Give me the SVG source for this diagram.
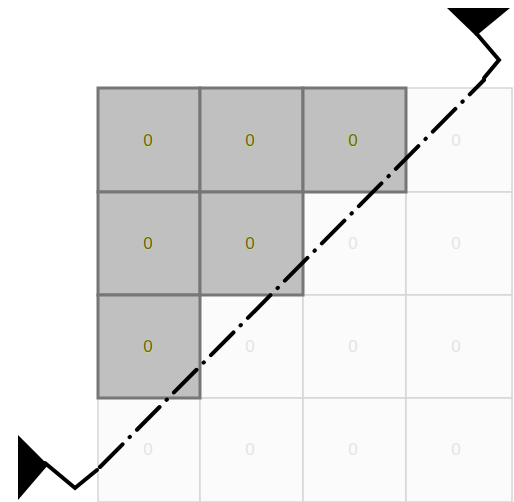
<svg xmlns="http://www.w3.org/2000/svg" width="514" height="502" viewBox="0 0 514 502">
<style>
.g rect{fill:#c0c0c0;stroke:#767676;stroke-width:3}
.w rect{fill:#fbfbfb;stroke:#d6d6d6;stroke-width:1.5}
.g text{fill:#66661a;font-family:"Liberation Sans",Arial,sans-serif;font-size:17px;text-anchor:middle;stroke:#d8e27a;stroke-width:1;paint-order:stroke}
.w text{fill:#e4e4e4;font-family:"Liberation Sans",Arial,sans-serif;font-size:17px;text-anchor:middle}
.cut{fill:none;stroke:#000;stroke-width:4;stroke-linecap:round;stroke-linejoin:miter}
</style>
<rect width="514" height="502" fill="#ffffff"/>
<g id="cell-0-3" class="w"><rect x="406" y="88" width="106" height="104"/><text x="456" y="146">0</text></g>
<g id="cell-1-2" class="w"><rect x="303" y="192" width="103" height="103"/><text x="353" y="249">0</text></g>
<g id="cell-1-3" class="w"><rect x="406" y="192" width="106" height="103"/><text x="456" y="249">0</text></g>
<g id="cell-2-1" class="w"><rect x="200" y="295" width="103" height="103"/><text x="250" y="352">0</text></g>
<g id="cell-2-2" class="w"><rect x="303" y="295" width="103" height="103"/><text x="353" y="352">0</text></g>
<g id="cell-2-3" class="w"><rect x="406" y="295" width="106" height="103"/><text x="456" y="352">0</text></g>
<g id="cell-3-0" class="w"><rect x="98" y="398" width="102" height="104"/><text x="148" y="455">0</text></g>
<g id="cell-3-1" class="w"><rect x="200" y="398" width="103" height="104"/><text x="250" y="455">0</text></g>
<g id="cell-3-2" class="w"><rect x="303" y="398" width="103" height="104"/><text x="353" y="455">0</text></g>
<g id="cell-3-3" class="w"><rect x="406" y="398" width="106" height="104"/><text x="456" y="455">0</text></g>
<g id="cell-0-0" class="g"><rect x="98" y="88" width="102" height="104"/><text x="148" y="146">0</text></g>
<g id="cell-0-1" class="g"><rect x="200" y="88" width="103" height="104"/><text x="250" y="146">0</text></g>
<g id="cell-0-2" class="g"><rect x="303" y="88" width="103" height="104"/><text x="353" y="146">0</text></g>
<g id="cell-1-0" class="g"><rect x="98" y="192" width="102" height="103"/><text x="148" y="249">0</text></g>
<g id="cell-1-1" class="g"><rect x="200" y="192" width="103" height="103"/><text x="250" y="249">0</text></g>
<g id="cell-2-0" class="g"><rect x="98" y="295" width="102" height="103"/><text x="148" y="352">0</text></g>
<g id="connectors">
<line class="cut" x1="100" y1="467" x2="484" y2="80" stroke-dasharray="32 10 0.5 10"/>
<polyline class="cut" points="45,463 75,488 97,470"/>
<polygon points="18,435 48,465 18,500" fill="#000"/>
<polyline class="cut" points="476,33 499,60 484,78"/>
<polygon points="447,8 510,8 476,36" fill="#000"/>
</g>
</svg>
